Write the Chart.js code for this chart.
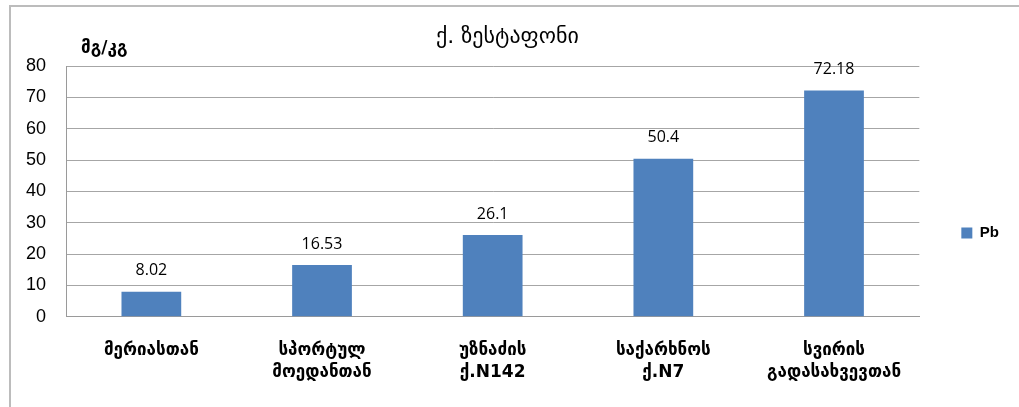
<!DOCTYPE html>
<html>
<head>
<meta charset="utf-8">
<script src="https://cdn.jsdelivr.net/npm/chart.js@4/dist/chart.umd.min.js"></script>
<style>
  html, body { margin: 0; padding: 0; background: #fff; overflow: hidden; }
  #wrap { position: relative; width: 1019px; height: 407px; }
  #frame { position: absolute; left: 9px; top: 5px; width: 1100px; height: 500px;
           border-left: 2px solid #bcbcbc; border-top: 2px solid #bcbcbc; }
  canvas { position: absolute; left: 0; top: 0; }
</style>
</head>
<body>
<div id="wrap">
  <div id="frame"></div>
  <canvas id="c" width="1019" height="407"></canvas>
</div>
<script>
// Sampling points (two-line labels where the name wraps)
const categories = [
  ["მერიასთან"],
  ["სპორტულ", "მოედანთან"],
  ["უზნაძის", "ქ.N142"],
  ["საქარხნოს", "ქ.N7"],
  ["სვირის", "გადასახვევთან"]
];
// Lead content, mg/kg
const pbValues = [8.02, 16.53, 26.1, 50.4, 72.18];
const seriesName = "Pb";
const chartTitle = "ქ. ზესტაფონი";
const unitLabel = "მგ/კგ";
const yTicks = [0, 10, 20, 30, 40, 50, 60, 70, 80];

const georgian = "'DejaVu Sans', sans-serif";

// Value labels above each bar, positioned from the bar elements
const valueLabels = {
  id: 'valueLabels',
  afterDatasetsDraw(chart) {
    const ctx = chart.ctx;
    const meta = chart.getDatasetMeta(0);
    ctx.save();
    ctx.font = "16px 'Open Sans', sans-serif";
    ctx.fillStyle = '#000';
    ctx.textAlign = 'center';
    ctx.textBaseline = 'middle';
    meta.data.forEach((bar, i) => {
      ctx.fillText(String(pbValues[i]), bar.x, bar.y - 21);
    });
    ctx.restore();
  }
};

// Unit caption above the value axis
const unitCaption = {
  id: 'unitCaption',
  afterDraw(chart) {
    const ctx = chart.ctx;
    ctx.save();
    ctx.font = "bold 17px " + georgian;
    ctx.fillStyle = '#000';
    ctx.textAlign = 'left';
    ctx.textBaseline = 'middle';
    ctx.fillText(unitLabel, chart.chartArea.left + 15, chart.chartArea.top - 17);
    ctx.restore();
  }
};

new Chart(document.getElementById('c'), {
  type: 'bar',
  data: {
    labels: categories,
    datasets: [{
      label: seriesName,
      data: pbValues,
      backgroundColor: '#4f81bd',
      borderWidth: 0,
      categoryPercentage: 0.35,
      barPercentage: 1.0
    }]
  },
  options: {
    responsive: false,
    animation: false,
    devicePixelRatio: 1,
    layout: { padding: { left: 6, right: 10, top: 0, bottom: 0 } },
    plugins: {
      title: {
        display: true,
        text: chartTitle,
        color: '#000',
        font: { family: georgian, size: 22, weight: 'normal' },
        padding: { top: 24, bottom: 15.6 }
      },
      legend: {
        position: 'right',
        align: 'start',
        maxWidth: 99,
        title: { display: true, text: ' ', font: { size: 10 }, padding: { top: 0, bottom: 171.5 } },
        labels: {
          color: '#000',
          boxWidth: 11,
          boxHeight: 11,
          padding: 42,
          font: { family: "'Liberation Sans', sans-serif", size: 15, weight: 'bold' }
        }
      },
      tooltip: { enabled: false }
    },
    scales: {
      x: {
        grid: { display: false, drawTicks: false },
        border: { color: '#9a9a9a', width: 1 },
        ticks: {
          color: '#000',
          padding: 23,
          maxRotation: 0,
          autoSkip: false,
          font: { family: georgian, size: 17, weight: 'bold', lineHeight: 1.3 }
        }
      },
      y: {
        min: 0,
        max: 80,
        afterBuildTicks(axis) { axis.ticks = yTicks.map(v => ({ value: v })); },
        grid: { color: '#a6a6a6', drawTicks: false },
        border: { color: '#9a9a9a', width: 1 },
        ticks: {
          color: '#000',
          padding: 20,
          font: { family: "'Liberation Sans', sans-serif", size: 18 }
        }
      }
    }
  },
  plugins: [valueLabels, unitCaption]
});
</script>
</body>
</html>
